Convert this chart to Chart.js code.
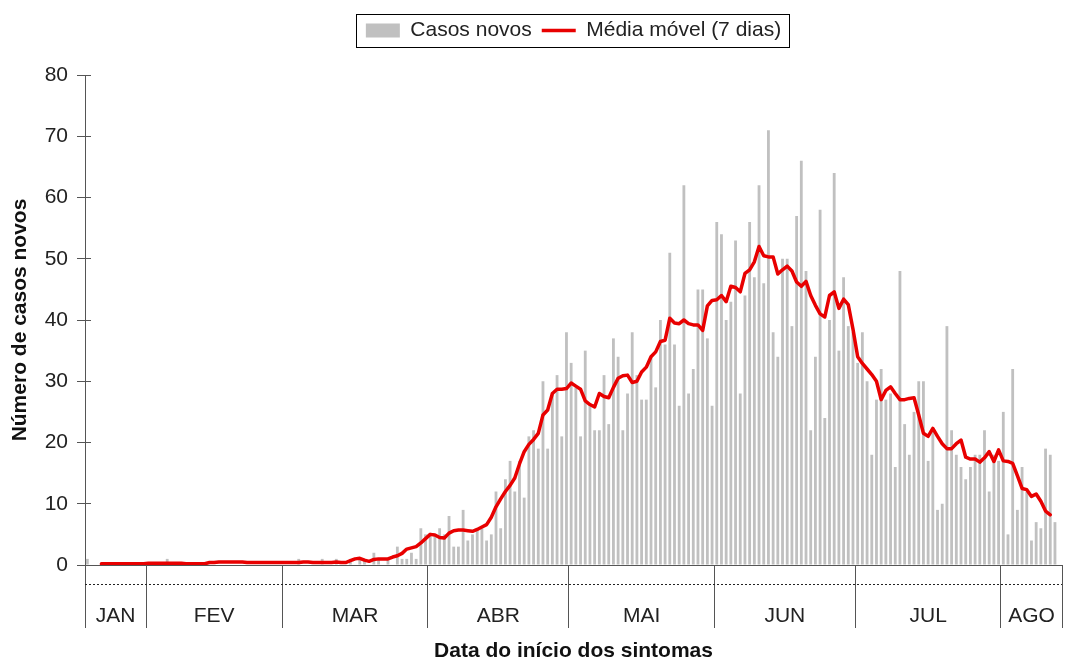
<!DOCTYPE html>
<html>
<head>
<meta charset="utf-8">
<script src="https://cdn.jsdelivr.net/npm/chart.js@4.4.0/dist/chart.umd.min.js"></script>
<style>
body { margin: 0; background: #fff; }
#wrap { width: 1069px; height: 662px; }
</style>
</head>
<body>
<div id="wrap"><canvas id="grafico" width="1069" height="662"></canvas></div>
<script>
// dias de 19/01 a 13/08 (2020)
var dias = []
for (let i = 0; i < 208; i++) {
    let d = new Date(2020, 0, 19 + i)
    dias.push(String(d.getDate()).padStart(2, '0') + '/' + String(d.getMonth() + 1).padStart(2, '0'))
}

const meses = ['JAN', 'FEV', 'MAR', 'ABR', 'MAI', 'JUN', 'JUL', 'AGO']

const casosNovos = [
    1, 0, 0, 0, 0, 0, 0, 0, 0, 0,
    0, 0, 0, 0, 0, 0, 0, 1, 0, 0,
    0, 0, 0, 0, 0, 0, 0, 0, 0, 0,
    0, 0, 0, 0, 0, 0, 0, 0, 0, 0,
    0, 0, 0, 0, 0, 1, 0, 0, 0, 0,
    1, 0, 0, 1, 0, 0, 1, 0, 1, 1,
    0, 2, 1, 0, 1, 0, 3, 1, 1, 2,
    1, 6, 5, 5, 5, 6, 5, 8, 3, 3,
    9, 4, 5, 6, 6, 4, 5, 12, 6, 14,
    17, 12, 17, 11, 21, 22, 19, 30, 19, 28,
    31, 21, 38, 33, 29, 21, 35, 26, 22, 22,
    31, 23, 37, 34, 22, 28, 38, 31, 27, 27,
    34, 29, 40, 36, 51, 36, 26, 62, 28, 32,
    45, 45, 37, 26, 56, 54, 40, 43, 53, 28,
    44, 56, 47, 62, 46, 71, 38, 34, 50, 50,
    39, 57, 66, 48, 22, 34, 58, 24, 40, 64,
    35, 47, 39, 38, 33, 38, 30, 18, 27, 32,
    27, 28, 16, 48, 23, 18, 25, 30, 30, 17,
    22, 9, 10, 39, 22, 18, 16, 14, 16, 18,
    18, 22, 12, 18, 17, 25, 5, 32, 9, 16,
    12, 4, 7, 6, 19, 18, 7, null
]

const mediaMovel = [
    null, null, null, 0.2, 0.2, 0.2, 0.2, 0.2, 0.2, 0.2,
    0.2, 0.2, 0.2, 0.3, 0.3, 0.3, 0.3, 0.3, 0.3, 0.3,
    0.3, 0.2, 0.2, 0.2, 0.2, 0.2, 0.4, 0.4, 0.5, 0.5,
    0.5, 0.5, 0.5, 0.5, 0.4, 0.4, 0.4, 0.4, 0.4, 0.4,
    0.4, 0.4, 0.4, 0.4, 0.4, 0.4, 0.5, 0.5, 0.4, 0.4,
    0.4, 0.4, 0.4, 0.5, 0.4, 0.4, 0.7, 1.0, 1.1, 0.8,
    0.6, 0.9, 1.0, 1.0, 1.0, 1.3, 1.5, 1.9, 2.6, 2.8,
    3.0, 3.6, 4.3, 5.0, 4.9, 4.5, 4.4, 5.2, 5.6, 5.7,
    5.7, 5.6, 5.5, 5.8, 6.2, 6.6, 7.8, 9.5, 10.8, 12.0,
    13.0, 14.2, 16.5, 18.5, 19.7, 20.5, 21.5, 24.5, 25.3, 28.0,
    28.7, 28.7, 28.8, 29.7, 29.2, 28.7, 26.8, 26.2, 25.8, 28.0,
    27.5, 27.3, 29.0, 30.5, 30.9, 31.0, 29.8, 30.0, 31.5, 32.3,
    34.0, 34.8, 36.5, 36.7, 40.3, 39.5, 39.4, 40.0, 39.4, 39.2,
    39.2, 38.3, 42.3, 43.2, 43.3, 44.0, 43.0, 45.5, 45.3, 44.6,
    47.6, 48.2, 49.5, 52.0, 50.5, 50.3, 50.3, 47.5, 48.2, 48.8,
    48.0, 46.2, 45.5, 46.3, 44.0, 42.4, 41.0, 40.5, 44.0, 44.6,
    41.9, 43.4, 42.5, 38.5, 34.0, 32.9, 32.0, 31.1, 30.0, 27.0,
    28.5, 29.1, 28.0, 27.0, 27.0, 27.2, 27.3, 24.5, 21.5, 21.0,
    22.3, 21.0, 19.8, 19.0, 19.0, 19.8, 20.4, 17.6, 17.3, 17.3,
    16.8, 17.5, 18.5, 16.9, 18.8, 17.0, 16.9, 16.6, 14.6, 12.5,
    12.3, 11.2, 11.6, 10.4, 8.8, 8.2, null, null
]

const cinza = '#c0c0c0'
const vermelho = '#e80000'
const fonte = "'Liberation Sans', Arial, sans-serif"

Chart.defaults.font.family = fonte
Chart.defaults.font.size = 21
Chart.defaults.color = '#222'

function alinhar(px) {
    return Math.round(px - 0.5) + 0.5
}

// moldura dos meses, marcas do eixo e caixa da legenda
const moldura = {
    id: 'moldura',
    afterDraw(chart) {
        const ctx = chart.ctx
        const area = chart.chartArea
        const x = chart.scales.x
        const y = chart.scales.y
        const base = area.bottom
        const fundo = base + 63
        const passo = x.getPixelForValue(1) - x.getPixelForValue(0)

        ctx.save()
        ctx.strokeStyle = '#555'
        ctx.lineWidth = 1

        ctx.beginPath()
        y.ticks.forEach(t => {
            let py = alinhar(y.getPixelForValue(t.value))
            ctx.moveTo(area.left, py)
            ctx.lineTo(area.left + 6, py)
        })
        ctx.stroke()

        let cortes = [area.left]
        for (let i = 1; i < dias.length; i++) {
            if (dias[i].slice(3) != dias[i - 1].slice(3)) cortes.push(x.getPixelForValue(i) - passo / 2)
        }
        cortes.push(area.right)

        ctx.beginPath()
        cortes.forEach(c => {
            let px = alinhar(c)
            ctx.moveTo(px, base)
            ctx.lineTo(px, fundo)
        })
        ctx.stroke()

        ctx.strokeStyle = '#222'
        ctx.setLineDash([2, 2])
        ctx.beginPath()
        ctx.moveTo(area.left, base + 19.5)
        ctx.lineTo(area.right, base + 19.5)
        ctx.stroke()
        ctx.setLineDash([])

        ctx.fillStyle = '#222'
        ctx.font = '21px ' + fonte
        ctx.textAlign = 'center'
        ctx.textBaseline = 'middle'
        for (let m = 0; m < cortes.length - 1; m++) {
            ctx.fillText(meses[m], (cortes[m] + cortes[m + 1]) / 2, base + 51)
        }

        const caixas = chart.legend.legendHitBoxes
        if (caixas && caixas.length) {
            let primeira = caixas[0]
            let ultima = caixas[caixas.length - 1]
            let meio = primeira.top + primeira.height / 2
            ctx.strokeStyle = '#000'
            ctx.strokeRect(alinhar(primeira.left - 9), alinhar(meio - 16.5), Math.round(ultima.left + ultima.width - primeira.left + 18), 33)
        }
        ctx.restore()
    }
}

const config = {
    type: 'bar',
    data: {
        labels: dias,
        datasets: [{
            type: 'bar',
            label: 'Casos novos',
            data: casosNovos,
            backgroundColor: cinza,
            barPercentage: 0.6,
            categoryPercentage: 1,
            order: 2
        }, {
            type: 'line',
            label: 'Média móvel (7 dias)',
            data: mediaMovel,
            borderColor: vermelho,
            backgroundColor: vermelho,
            borderWidth: 3.5,
            borderJoinStyle: 'round',
            borderCapStyle: 'round',
            pointRadius: 0,
            tension: 0,
            fill: false,
            order: 1
        }]
    },
    options: {
        responsive: false,
        animation: false,
        devicePixelRatio: 1,
        layout: {
            padding: { top: 10, right: 7, bottom: 0, left: 0 }
        },
        plugins: {
            tooltip: { enabled: false },
            legend: {
                position: 'top',
                fullSize: false,
                weight: 3000,
                labels: {
                    usePointStyle: true,
                    pointStyleWidth: 34,
                    boxHeight: 14,
                    padding: 10,
                    color: '#222',
                    font: { size: 21 },
                    sort: (a, b) => a.datasetIndex - b.datasetIndex,
                    generateLabels: function (chart) {
                        let itens = Chart.defaults.plugins.legend.labels.generateLabels(chart)
                        itens.forEach(item => {
                            if (item.datasetIndex == 0) {
                                item.pointStyle = 'rect'
                                item.fillStyle = cinza
                                item.lineWidth = 0
                            } else {
                                item.pointStyle = 'line'
                                item.strokeStyle = vermelho
                                item.lineWidth = 3.5
                            }
                        })
                        return itens
                    }
                }
            },
            title: {
                display: true,
                text: '',
                padding: 0,
                font: { size: 24, lineHeight: 1 }
            }
        },
        scales: {
            x: {
                ticks: { display: false },
                grid: { display: true, drawOnChartArea: false, drawTicks: false },
                border: { display: true, color: '#555', width: 1 },
                title: {
                    display: true,
                    text: 'Data do início dos sintomas',
                    color: '#111',
                    font: { size: 21, weight: 'bold', lineHeight: 1 },
                    padding: { top: 76, bottom: 0 }
                }
            },
            y: {
                min: 0,
                max: 80,
                ticks: { stepSize: 10, padding: 9, color: '#222', font: { size: 21 } },
                grid: { display: true, drawOnChartArea: false, drawTicks: true, tickLength: 8, color: '#555' },
                border: { display: true, color: '#555', width: 1 },
                title: {
                    display: true,
                    text: 'Número de casos novos',
                    color: '#111',
                    font: { size: 21, weight: 'bold', lineHeight: 1.2 },
                    padding: { top: 8, bottom: 0 }
                },
                afterFit: function (scale) {
                    scale.width = 85
                }
            }
        }
    },
    plugins: [moldura]
}

const grafico = new Chart(document.getElementById('grafico'), config)
</script>
</body>
</html>
